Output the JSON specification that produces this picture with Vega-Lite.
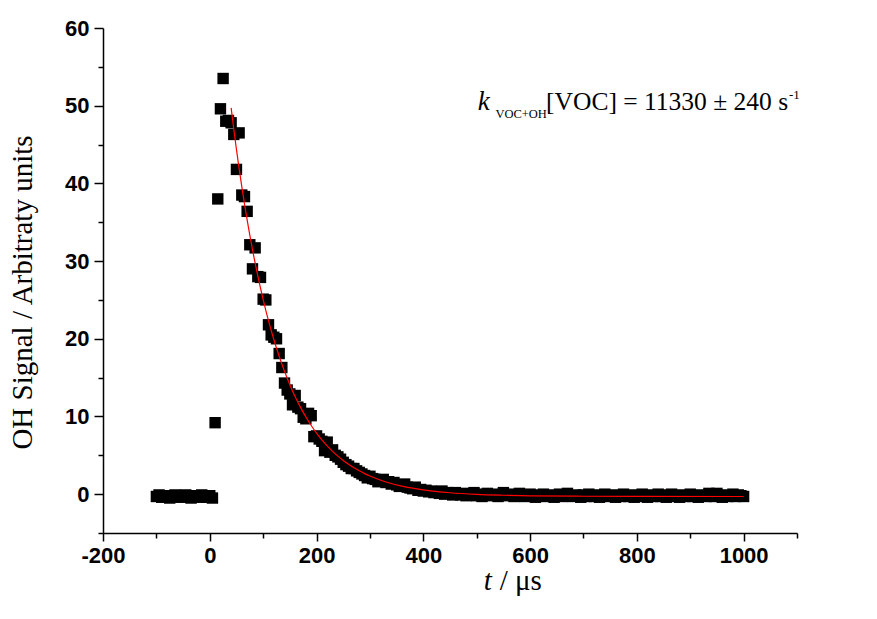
{
  "$schema": "https://vega.github.io/schema/vega-lite/v6.json",
  "width": 694,
  "height": 505,
  "autosize": {"type": "none"},
  "padding": {"left": 103, "top": 28, "right": 80, "bottom": 86},
  "background": "white",
  "config": {"view": {"stroke": null}},
  "datasets": {
    "obs": [
      {"t": -100, "s": -0.3}, {"t": -95, "s": -0.1}, {"t": -90, "s": -0.4}, {"t": -85, "s": -0.2}, {"t": -80, "s": -0.3},
      {"t": -75, "s": -0.5}, {"t": -70, "s": -0.2}, {"t": -65, "s": -0.1}, {"t": -60, "s": -0.3}, {"t": -55, "s": -0.4},
      {"t": -50, "s": -0.2}, {"t": -45, "s": -0.1}, {"t": -40, "s": -0.3}, {"t": -35, "s": -0.5}, {"t": -30, "s": -0.3},
      {"t": -25, "s": -0.2}, {"t": -20, "s": -0.4}, {"t": -15, "s": -0.1}, {"t": -10, "s": -0.3}, {"t": -5, "s": -0.4},
      {"t": 0, "s": -0.2}, {"t": 5, "s": -0.5},
      {"t": 10, "s": 9.2}, {"t": 15, "s": 38.0}, {"t": 20, "s": 49.6}, {"t": 25, "s": 53.5}, {"t": 30, "s": 48.0},
      {"t": 35, "s": 48.1}, {"t": 40, "s": 47.8}, {"t": 45, "s": 46.3}, {"t": 50, "s": 41.8}, {"t": 55, "s": 46.5},
      {"t": 60, "s": 38.5}, {"t": 65, "s": 38.3}, {"t": 70, "s": 36.4}, {"t": 75, "s": 32.1}, {"t": 80, "s": 29.0},
      {"t": 85, "s": 31.7}, {"t": 90, "s": 28.0}, {"t": 95, "s": 27.9}, {"t": 100, "s": 25.1}, {"t": 105, "s": 25.0},
      {"t": 110, "s": 21.8}, {"t": 115, "s": 20.5}, {"t": 120, "s": 20.2}, {"t": 125, "s": 20.0}, {"t": 130, "s": 18.1},
      {"t": 135, "s": 16.3}, {"t": 140, "s": 14.3}, {"t": 145, "s": 13.4}, {"t": 150, "s": 12.9}, {"t": 155, "s": 11.5},
      {"t": 160, "s": 12.7}, {"t": 165, "s": 11.2}, {"t": 170, "s": 11.0}, {"t": 175, "s": 9.9}, {"t": 180, "s": 9.7},
      {"t": 185, "s": 10.4}, {"t": 190, "s": 10.1}, {"t": 195, "s": 7.4}, {"t": 200, "s": 7.5}, {"t": 205, "s": 7.1},
      {"t": 210, "s": 6.8}, {"t": 215, "s": 5.6}, {"t": 220, "s": 6.7}, {"t": 225, "s": 5.4}, {"t": 230, "s": 5.7},
      {"t": 235, "s": 5.0}, {"t": 240, "s": 4.8}, {"t": 245, "s": 4.5}, {"t": 250, "s": 4.1}, {"t": 255, "s": 3.8},
      {"t": 260, "s": 3.6}, {"t": 265, "s": 3.3}, {"t": 270, "s": 3.3}, {"t": 275, "s": 3.0}, {"t": 280, "s": 2.8},
      {"t": 285, "s": 2.6}, {"t": 290, "s": 2.4}, {"t": 295, "s": 2.1}, {"t": 300, "s": 2.3}, {"t": 305, "s": 2.0},
      {"t": 310, "s": 1.9}, {"t": 315, "s": 1.6}, {"t": 320, "s": 1.7}, {"t": 325, "s": 1.9}, {"t": 330, "s": 1.5},
      {"t": 335, "s": 1.6}, {"t": 340, "s": 1.3}, {"t": 345, "s": 1.5}, {"t": 350, "s": 1.2}, {"t": 355, "s": 1.0},
      {"t": 360, "s": 1.2}, {"t": 365, "s": 1.3}, {"t": 370, "s": 0.9}, {"t": 375, "s": 0.8}, {"t": 380, "s": 0.7},
      {"t": 385, "s": 0.9}, {"t": 390, "s": 0.5}, {"t": 395, "s": 0.6}, {"t": 400, "s": 0.4}, {"t": 405, "s": 0.5},
      {"t": 410, "s": 0.3}, {"t": 415, "s": 0.4}, {"t": 420, "s": 0.2}, {"t": 425, "s": 0.3}, {"t": 430, "s": 0.1},
      {"t": 435, "s": 0.4}, {"t": 440, "s": 0.0}, {"t": 445, "s": 0.2}, {"t": 450, "s": 0.1}, {"t": 455, "s": -0.1},
      {"t": 460, "s": 0.2}, {"t": 465, "s": 0.0}, {"t": 470, "s": -0.1}, {"t": 475, "s": 0.1}, {"t": 480, "s": -0.2},
      {"t": 485, "s": 0.0}, {"t": 490, "s": -0.1}, {"t": 495, "s": 0.2}, {"t": 500, "s": -0.2}, {"t": 505, "s": 0.0},
      {"t": 510, "s": -0.3}, {"t": 515, "s": -0.1}, {"t": 520, "s": 0.1}, {"t": 525, "s": -0.2}, {"t": 530, "s": -0.1},
      {"t": 535, "s": 0.0}, {"t": 540, "s": -0.3}, {"t": 545, "s": -0.1}, {"t": 550, "s": 0.2}, {"t": 555, "s": -0.2},
      {"t": 560, "s": -0.1}, {"t": 565, "s": 0.0}, {"t": 570, "s": -0.3}, {"t": 575, "s": -0.2}, {"t": 580, "s": 0.1},
      {"t": 585, "s": -0.1}, {"t": 590, "s": -0.3}, {"t": 595, "s": -0.2}, {"t": 600, "s": 0.0}, {"t": 605, "s": -0.2},
      {"t": 610, "s": -0.4}, {"t": 615, "s": -0.1}, {"t": 620, "s": -0.2}, {"t": 625, "s": 0.0}, {"t": 630, "s": -0.3},
      {"t": 635, "s": -0.2}, {"t": 640, "s": -0.1}, {"t": 645, "s": -0.4}, {"t": 650, "s": -0.2}, {"t": 655, "s": 0.0},
      {"t": 660, "s": -0.3}, {"t": 665, "s": -0.1}, {"t": 670, "s": 0.1}, {"t": 675, "s": -0.2}, {"t": 680, "s": -0.3},
      {"t": 685, "s": -0.1}, {"t": 690, "s": -0.2}, {"t": 695, "s": -0.4}, {"t": 700, "s": -0.1}, {"t": 705, "s": -0.3},
      {"t": 710, "s": 0.0}, {"t": 715, "s": -0.2}, {"t": 720, "s": -0.3}, {"t": 725, "s": -0.1}, {"t": 730, "s": -0.4},
      {"t": 735, "s": -0.2}, {"t": 740, "s": 0.0}, {"t": 745, "s": -0.3}, {"t": 750, "s": -0.2}, {"t": 755, "s": -0.1},
      {"t": 760, "s": -0.4}, {"t": 765, "s": -0.2}, {"t": 770, "s": -0.3}, {"t": 775, "s": 0.0}, {"t": 780, "s": -0.2},
      {"t": 785, "s": -0.3}, {"t": 790, "s": -0.1}, {"t": 795, "s": -0.4}, {"t": 800, "s": -0.2}, {"t": 805, "s": -0.3},
      {"t": 810, "s": 0.0}, {"t": 815, "s": -0.2}, {"t": 820, "s": -0.4}, {"t": 825, "s": -0.1}, {"t": 830, "s": -0.3},
      {"t": 835, "s": -0.2}, {"t": 840, "s": 0.0}, {"t": 845, "s": -0.3}, {"t": 850, "s": -0.1}, {"t": 855, "s": -0.4},
      {"t": 860, "s": -0.2}, {"t": 865, "s": 0.0}, {"t": 870, "s": -0.3}, {"t": 875, "s": -0.2}, {"t": 880, "s": -0.4},
      {"t": 885, "s": -0.1}, {"t": 890, "s": -0.3}, {"t": 895, "s": -0.2}, {"t": 900, "s": 0.0}, {"t": 905, "s": -0.3},
      {"t": 910, "s": -0.2}, {"t": 915, "s": -0.4}, {"t": 920, "s": -0.1}, {"t": 925, "s": -0.2}, {"t": 930, "s": -0.3},
      {"t": 935, "s": 0.1}, {"t": 940, "s": -0.2}, {"t": 945, "s": -0.3}, {"t": 950, "s": 0.1}, {"t": 955, "s": -0.2},
      {"t": 960, "s": -0.4}, {"t": 965, "s": -0.1}, {"t": 970, "s": -0.3}, {"t": 975, "s": -0.2}, {"t": 980, "s": 0.0},
      {"t": 985, "s": -0.3}, {"t": 990, "s": -0.1}, {"t": 995, "s": -0.2}, {"t": 1000, "s": -0.3}
    ],
    "fit": [
      {"t": 40, "s": 49.72}, {"t": 45, "s": 46.97}, {"t": 50, "s": 44.36}, {"t": 55, "s": 41.91}, {"t": 60, "s": 39.58},
      {"t": 65, "s": 37.38}, {"t": 70, "s": 35.30}, {"t": 75, "s": 33.34}, {"t": 80, "s": 31.49}, {"t": 90, "s": 28.09},
      {"t": 100, "s": 25.05}, {"t": 110, "s": 22.33}, {"t": 120, "s": 19.91}, {"t": 130, "s": 17.75}, {"t": 140, "s": 15.81},
      {"t": 150, "s": 14.09}, {"t": 160, "s": 12.54}, {"t": 170, "s": 11.17}, {"t": 180, "s": 9.94}, {"t": 190, "s": 8.84},
      {"t": 200, "s": 7.86}, {"t": 210, "s": 6.99}, {"t": 220, "s": 6.21}, {"t": 230, "s": 5.51}, {"t": 240, "s": 4.89},
      {"t": 250, "s": 4.33}, {"t": 260, "s": 3.84}, {"t": 270, "s": 3.39}, {"t": 280, "s": 3.00}, {"t": 290, "s": 2.64},
      {"t": 300, "s": 2.33}, {"t": 330, "s": 1.57}, {"t": 360, "s": 1.03}, {"t": 400, "s": 0.55}, {"t": 450, "s": 0.18},
      {"t": 500, "s": -0.03}, {"t": 550, "s": -0.14}, {"t": 600, "s": -0.21}, {"t": 700, "s": -0.27}, {"t": 800, "s": -0.29},
      {"t": 1000, "s": -0.30}
    ],
    "one": [{"n": 1}]
  },
  "resolve": {"axis": {"x": "independent", "y": "independent"}},
  "layer": [
    {
      "data": {"name": "obs"},
      "mark": {"type": "point", "shape": "square", "filled": true, "color": "black", "opacity": 1, "size": 130},
      "encoding": {
        "x": {"field": "t", "type": "quantitative", "scale": {"domain": [-200, 1100], "nice": false, "zero": false},
          "axis": {"orient": "bottom", "values": [-200, 0, 200, 400, 600, 800, 1000], "labelExpr": "'' + datum.value", "grid": false,
            "domainColor": "black", "domainWidth": 1.5, "tickColor": "black", "tickWidth": 1.5, "tickSize": 8,
            "labelFont": "Liberation Sans", "labelFontWeight": "bold", "labelFontSize": 22, "labelColor": "black",
            "labelPadding": 4, "title": null, "labelFlush": false}},
        "y": {"field": "s", "type": "quantitative", "scale": {"domain": [-5, 60], "nice": false, "zero": false},
          "axis": {"orient": "left", "values": [0, 10, 20, 30, 40, 50, 60], "labelExpr": "'' + datum.value", "grid": false,
            "domainColor": "black", "domainWidth": 1.5, "tickColor": "black", "tickWidth": 1.5, "tickSize": 9,
            "labelFont": "Liberation Sans", "labelFontWeight": "bold", "labelFontSize": 22, "labelColor": "black",
            "labelPadding": 5, "labelFlush": false,
            "title": "OH Signal / Arbitraty units", "titleFont": "Liberation Serif", "titleFontWeight": "normal",
            "titleFontSize": 29, "titleColor": "black", "titleX": -66, "titleY": 264}}
      }
    },
    {
      "data": {"name": "obs"},
      "mark": {"type": "point", "opacity": 0},
      "encoding": {
        "x": {"field": "t", "type": "quantitative",
          "axis": {"orient": "bottom", "values": [-100, 100, 300, 500, 700, 900, 1100], "grid": false, "labels": false,
            "domain": false, "tickColor": "black", "tickWidth": 1.5, "tickSize": 5, "title": null}},
        "y": {"field": "s", "type": "quantitative",
          "axis": {"orient": "left", "values": [-5, 5, 15, 25, 35, 45, 55], "grid": false, "labels": false,
            "domain": false, "tickColor": "black", "tickWidth": 1.5, "tickSize": 5, "title": null}}
      }
    },
    {
      "data": {"name": "fit"},
      "mark": {"type": "line", "color": "#ff0000", "strokeWidth": 1.2, "interpolate": "monotone"},
      "encoding": {
        "x": {"field": "t", "type": "quantitative", "axis": null},
        "y": {"field": "s", "type": "quantitative", "axis": null}
      }
    },
    {
      "data": {"name": "one"},
      "mark": {"type": "text", "text": "t", "font": "Liberation Serif", "fontStyle": "italic", "fontSize": 29, "align": "left", "baseline": "alphabetic", "color": "black"},
      "encoding": {
        "x": {"datum": 513, "type": "quantitative", "axis": null},
        "y": {"datum": -12.4, "type": "quantitative", "axis": null}
      }
    },
    {
      "data": {"name": "one"},
      "mark": {"type": "text", "text": "/ μs", "font": "Liberation Serif", "fontSize": 29, "align": "left", "baseline": "alphabetic", "color": "black"},
      "encoding": {
        "x": {"datum": 543, "type": "quantitative", "axis": null},
        "y": {"datum": -12.4, "type": "quantitative", "axis": null}
      }
    },
    {
      "data": {"name": "one"},
      "mark": {"type": "text", "text": "k", "font": "Liberation Serif", "fontStyle": "italic", "fontSize": 27, "align": "left", "baseline": "alphabetic", "color": "black"},
      "encoding": {
        "x": {"datum": 502, "type": "quantitative", "axis": null},
        "y": {"datum": 49.45, "type": "quantitative", "axis": null}
      }
    },
    {
      "data": {"name": "one"},
      "mark": {"type": "text", "text": "VOC+OH", "font": "Liberation Serif", "fontSize": 12.5, "align": "left", "baseline": "alphabetic", "color": "black"},
      "encoding": {
        "x": {"datum": 535, "type": "quantitative", "axis": null},
        "y": {"datum": 48.42, "type": "quantitative", "axis": null}
      }
    },
    {
      "data": {"name": "one"},
      "mark": {"type": "text", "text": "[VOC] = 11330 ± 240 s", "font": "Liberation Serif", "fontSize": 25.5, "align": "left", "baseline": "alphabetic", "color": "black"},
      "encoding": {
        "x": {"datum": 630, "type": "quantitative", "axis": null},
        "y": {"datum": 49.45, "type": "quantitative", "axis": null}
      }
    },
    {
      "data": {"name": "one"},
      "mark": {"type": "text", "text": "-1", "font": "Liberation Serif", "fontSize": 13, "align": "left", "baseline": "alphabetic", "color": "black"},
      "encoding": {
        "x": {"datum": 1085, "type": "quantitative", "axis": null},
        "y": {"datum": 50.9, "type": "quantitative", "axis": null}
      }
    }
  ]
}
